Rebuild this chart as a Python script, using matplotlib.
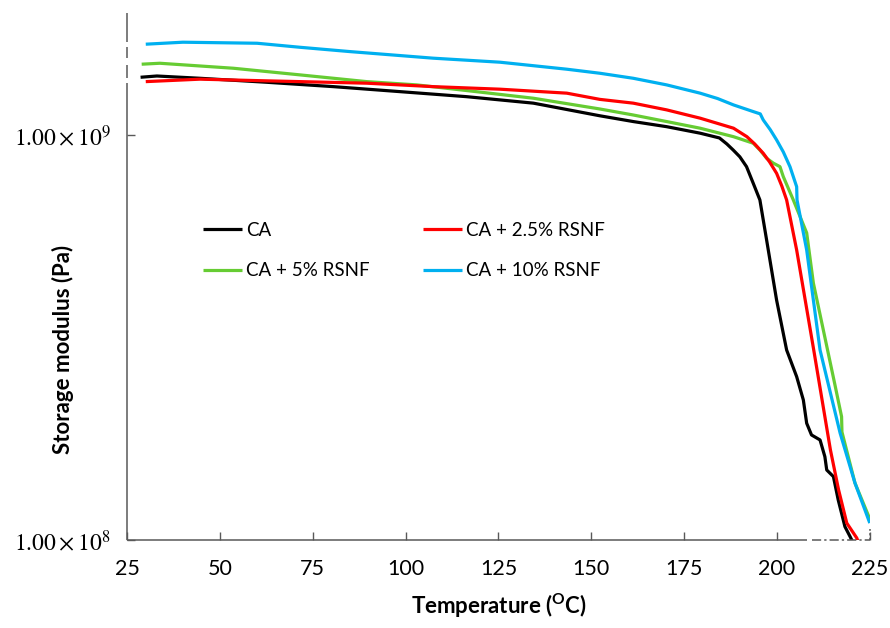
import matplotlib
matplotlib.use("Agg")
import matplotlib.pyplot as plt
from matplotlib.ticker import NullLocator

# Storage modulus (in units of 1e8 Pa) versus temperature (°C)
temp_ca = [28.6, 33, 44.6, 62.6, 80.5, 98.5, 116.4, 134.4, 152.3, 161.3, 170.3,
           179.3, 184.5, 186.5, 188.2, 190, 191.8, 193.6, 195.4, 197.2, 199.9, 202.6, 205.3,
           207.1, 208, 209.3, 211.6, 212.9, 213.4, 215.2, 216.5, 218.3, 219.7, 220.8]
mod_ca = [13.88, 13.98, 13.80, 13.49, 13.16, 12.79, 12.43, 11.98, 11.15, 10.79, 10.48,
          10.10, 9.83, 9.50, 9.18, 8.83, 8.35, 7.60, 6.91, 5.51, 3.91, 2.945, 2.531,
          2.217, 1.942, 1.817, 1.766, 1.606, 1.489, 1.434, 1.255, 1.079, 1.019, 0.972]

temp_25 = [30, 44.6, 62.6, 89.5, 107.4, 125.4, 143.4, 152.3, 161.3, 170.3, 179.3,
           188.3, 191.9, 194, 196.3, 198, 199.9, 201.3, 202.6, 205.3, 209.9, 214.4,
           216.6, 218.8, 221.5, 222.5]
mod_25 = [13.54, 13.73, 13.60, 13.42, 13.16, 12.97, 12.68, 12.24, 11.98, 11.53, 11.00,
          10.39, 9.90, 9.50, 9.01, 8.58, 8.04, 7.48, 6.91, 5.20, 2.945, 1.668,
          1.329, 1.101, 1.011, 0.955]

temp_5 = [28.9, 33.8, 53.6, 71.5, 89.5, 103, 116.4, 134.4, 152.3, 161.3, 170.3, 179.3,
          188.3, 193.6, 195.4, 197.2, 199, 200.8, 201.7, 204.4, 208, 209.8, 215.5,
          217.4, 217.5, 221, 225]
mod_5 = [14.95, 15.03, 14.61, 14.07, 13.54, 13.29, 12.87, 12.32, 11.59, 11.20, 10.79, 10.39,
         9.90, 9.54, 9.18, 8.76, 8.52, 8.35, 7.89, 6.91, 5.73, 4.31, 2.443,
         2.016, 1.848, 1.383, 1.127]

temp_10 = [30, 40, 60, 71.5, 85, 107.4, 125.4, 143.4, 152.3, 161.3, 170.3, 179.3, 184,
           188.3, 193.6, 195.5, 196.3, 198.2, 199.9, 201.7, 203.5, 205.3, 205.4, 208,
           211.6, 217, 221, 225]
mod_10 = [16.75, 16.94, 16.84, 16.46, 16.06, 15.47, 15.12, 14.53, 14.20, 13.80, 13.29, 12.68,
          12.30, 11.86, 11.42, 11.27, 10.89, 10.30, 9.72, 9.08, 8.35, 7.45, 6.91, 5.20,
          2.945, 1.837, 1.383, 1.101]

series = [
    ("CA", temp_ca, mod_ca, "#000000"),
    ("CA + 5% RSNF", temp_5, mod_5, "#66CC33"),
    ("CA + 2.5% RSNF", temp_25, mod_25, "#FF0000"),
    ("CA + 10% RSNF", temp_10, mod_10, "#00B0F0"),
]

x_ticks = [25, 50, 75, 100, 125, 150, 175, 200, 225]
y_ticks = [1e8, 1e9]
y_tick_labels = [r"$1.00\times10^{8}$", r"$1.00\times10^{9}$"]

plt.rcParams["mathtext.fontset"] = "stix"
sans = ["Lato", "DejaVu Sans"]
axis_grey = "#595959"

fig = plt.figure(figsize=(8.9, 6.28), dpi=100)
ax = fig.add_axes([127.2 / 890, 88 / 628, 742.6 / 890, 527 / 628])

for label, t, m, c in series:
    ax.plot(t, [v * 1e8 for v in m], color=c, lw=2.3, label=label,
            solid_joinstyle="round", solid_capstyle="butt")

ax.set_yscale("log")
ax.set_xlim(25, 225)
ax.set_ylim(1e8, 2e9)
ax.yaxis.set_minor_locator(NullLocator())
ax.set_xticks(x_ticks)
ax.set_yticks(y_ticks, labels=y_tick_labels)

ax.tick_params(axis="x", direction="in", length=5.5, width=1, color=axis_grey,
               pad=14, labelsize=15.5, labelcolor="#000000")
ax.tick_params(axis="y", direction="in", length=5.5, width=1, color=axis_grey,
               pad=12, labelsize=17, labelcolor="#000000")
for lab in ax.get_xticklabels():
    lab.set_family(sans)

for s in ax.spines.values():
    s.set_visible(False)

# Axis lines, broken near the top of the vertical axis and dashed at the right end
xax = ax.get_xaxis_transform()
axes_tr = ax.transAxes
for y0, y1 in [(0.0, 0.867), (0.877, 0.901), (0.915, 0.935), (0.945, 1.0)]:
    ax.plot([0, 0], [y0, y1], transform=axes_tr, color=axis_grey, lw=1.1,
            clip_on=False, solid_capstyle="butt")
ax.plot([25, 208.1], [0, 0], transform=xax, color=axis_grey, lw=1.1,
        clip_on=False, solid_capstyle="butt")
ax.plot([209.5, 225], [0, 0], transform=xax, color=axis_grey, lw=1.1,
        clip_on=False, linestyle=(0, (6, 2, 1.5, 2)))
ax.plot([1, 1], [0, 0.02], transform=axes_tr, color=axis_grey, lw=1.1,
        clip_on=False, linestyle=(0, (1.5, 1.5)))

ax.set_xlabel("Temperature ($\\mathregular{^{O}}$C)", fontsize=16, fontweight="bold",
              family=sans, labelpad=9)
ax.text(63 / 890, 1 - 349 / 628, "Storage modulus (Pa)", transform=fig.transFigure,
        rotation=90, ha="center", va="center", fontsize=16, fontweight="bold",
        family=sans)

leg = ax.legend(ncol=2, frameon=False, loc="upper left",
                bbox_to_anchor=((203 - 127.2) / 742.6, (540 - 222) / 527),
                borderpad=0, borderaxespad=0, handlelength=2.1, handletextpad=0.2,
                columnspacing=2.82, labelspacing=1.25, prop={"family": sans, "size": 13.5})

fig.savefig("out.png", dpi=100)
